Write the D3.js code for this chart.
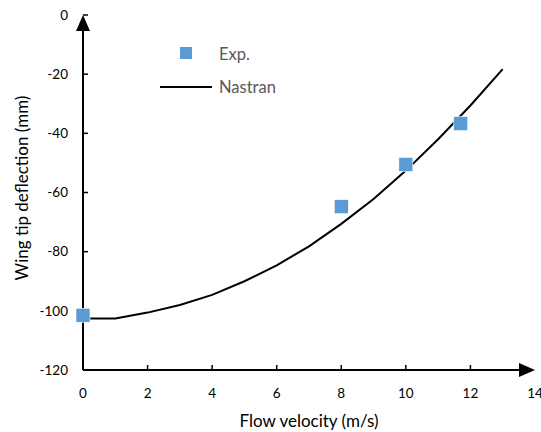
<!DOCTYPE html>
<html>
<head>
<meta charset="utf-8">
<script src="https://cdn.jsdelivr.net/npm/d3@7"></script>
<style>
  body { margin: 0; background: #fff; }
  text { font-family: Lato, "Open Sans", sans-serif; }
</style>
</head>
<body>
<script>
const w = 541;
const h = 432;

// experimental points
const expX = [0, 8, 10, 11.7];
const expY = [-101.5, -64.8, -50.5, -36.7];

// Nastran curve
const nasX = [0, 1, 2, 3, 4, 5, 6, 7, 8, 9, 10, 11, 12, 13];
const nasY = [-102.6, -102.6, -100.6, -98, -94.6, -90, -84.6, -78.2, -70.6, -62.2, -52.6, -42, -30.6, -18.3];

const xTicks = [0, 2, 4, 6, 8, 10, 12, 14];
const yTicks = [0, -20, -40, -60, -80, -100, -120];

const svg = d3.select("body").append("svg")
  .attr("width", w)
  .attr("height", h);

const x = d3.scaleLinear().domain([0, 14]).range([83, 535]);
const y = d3.scaleLinear().domain([-120, 0]).range([370, 15]);

const ink = "#000";
const grey = "#595959";

// y axis line
svg.append("line")
  .attr("x1", x(0)).attr("x2", x(0))
  .attr("y1", y(-120)).attr("y2", y(0) + 10)
  .attr("stroke", ink).attr("stroke-width", 2);
svg.append("path")
  .attr("d", `M${x(0)},${y(0)} L${x(0) - 7},${y(0) + 16} L${x(0) + 7},${y(0) + 16} Z`)
  .attr("fill", ink);

// x axis line
svg.append("line")
  .attr("x1", x(0)).attr("x2", x(14) - 10)
  .attr("y1", y(-120)).attr("y2", y(-120))
  .attr("stroke", ink).attr("stroke-width", 2);
svg.append("path")
  .attr("d", `M${x(14)},${y(-120)} L${x(14) - 16},${y(-120) - 7} L${x(14) - 16},${y(-120) + 7} Z`)
  .attr("fill", ink);

// ticks
svg.selectAll(".yt").data(yTicks.slice(0, -1)).enter().append("line")
  .attr("x1", x(0)).attr("x2", x(0) + 5)
  .attr("y1", d => y(d)).attr("y2", d => y(d))
  .attr("stroke", ink).attr("stroke-width", 1.5);
svg.selectAll(".xt").data(xTicks.slice(1, -1)).enter().append("line")
  .attr("x1", d => x(d)).attr("x2", d => x(d))
  .attr("y1", y(-120)).attr("y2", y(-120) - 5)
  .attr("stroke", ink).attr("stroke-width", 1.5);

// tick labels
svg.selectAll(".yl").data(yTicks).enter().append("text")
  .attr("x", x(0) - 15)
  .attr("y", d => y(d))
  .attr("dy", "0.35em")
  .attr("text-anchor", "end")
  .style("font-size", "13.5px")
  .attr("fill", ink)
  .text(d => d);
svg.selectAll(".xl").data(xTicks).enter().append("text")
  .attr("x", d => x(d))
  .attr("y", y(-120) + 23)
  .attr("dy", "0.35em")
  .attr("text-anchor", "middle")
  .style("font-size", "13.5px")
  .attr("fill", ink)
  .text(d => d);

// axis titles
svg.append("text")
  .attr("transform", "translate(" + 22 + "," + 188 + ") rotate(-90)")
  .attr("text-anchor", "middle")
  .attr("dy", "0.35em")
  .style("font-size", "17px")
  .text("Wing tip deflection (mm)");
svg.append("text")
  .attr("x", 309).attr("y", 421)
  .attr("text-anchor", "middle")
  .attr("dy", "0.35em")
  .style("font-size", "17px")
  .text("Flow velocity (m/s)");

// Nastran line
const nas = nasX.map((d, i) => [d, nasY[i]]);
svg.append("path")
  .datum(nas)
  .attr("fill", "none")
  .attr("stroke", ink)
  .attr("stroke-width", 2)
  .attr("d", d3.line().x(d => x(d[0])).y(d => y(d[1])));

// experimental squares
const sz = 14;
svg.selectAll(".pt").data(expX).enter().append("rect")
  .attr("x", (d, i) => x(d) - sz / 2)
  .attr("y", (d, i) => y(expY[i]) - sz / 2)
  .attr("width", sz).attr("height", sz)
  .attr("fill", "#5B9BD5")
  .attr("stroke", "#fff").attr("stroke-width", 0.6);

// legend
svg.append("rect")
  .attr("x", 180).attr("y", 47).attr("width", 12).attr("height", 12)
  .attr("fill", "#5B9BD5");
svg.append("text")
  .attr("x", 219).attr("y", 54).attr("dy", "0.35em")
  .style("font-size", "16.5px").attr("fill", grey)
  .text("Exp.");
svg.append("line")
  .attr("x1", 160).attr("x2", 212).attr("y1", 87).attr("y2", 87)
  .attr("stroke", ink).attr("stroke-width", 2);
svg.append("text")
  .attr("x", 219).attr("y", 87).attr("dy", "0.35em")
  .style("font-size", "16.5px").attr("fill", grey)
  .text("Nastran");
</script>
</body>
</html>
